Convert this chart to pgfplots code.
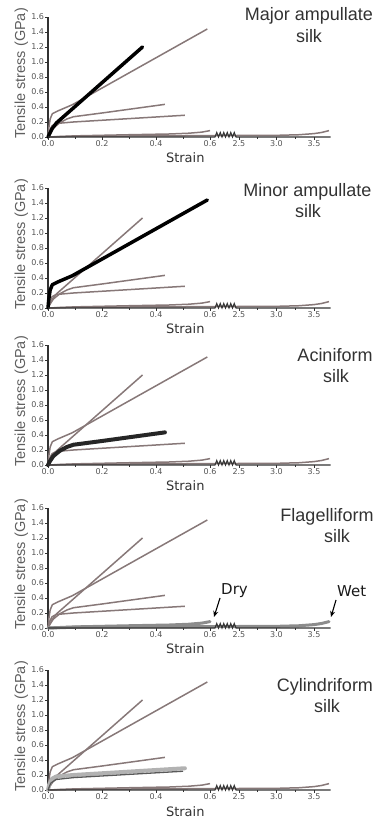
\documentclass[border=0pt]{standalone}
\usepackage{pgfplots}
\pgfplotsset{compat=1.18}
\usepackage{pgfplotstable}
\usepackage{fontspec}
\usetikzlibrary{arrows.meta}
\newfontfamily\arialf{Liberation Sans}
\newfontfamily\verdf{DejaVu Sans}
\definecolor{thingray}{RGB}{135,120,120}
\definecolor{axcol}{RGB}{50,50,50}
\definecolor{ticklab}{RGB}{85,85,85}
\definecolor{ylab}{RGB}{95,95,95}
\definecolor{titlecol}{RGB}{50,50,50}

\pgfplotstableread{
x y
0 0
0.007 0.05
0.015 0.11
0.032 0.19
0.35 1.2
}\tabMA
\pgfplotstableread{
x y
0 0
0.003 0.12
0.008 0.24
0.016 0.31
0.035 0.345
0.09 0.43
0.59 1.44
}\tabMI
\pgfplotstableread{
x y
0 0
0.007 0.05
0.02 0.12
0.044 0.19
0.07 0.24
0.094 0.27
0.2 0.32
0.433 0.435
}\tabAC
\pgfplotstableread{
x y
0 0
0.005 0.08
0.015 0.15
0.03 0.18
0.094 0.2
0.507 0.29
}\tabCY
\pgfplotstableread{
x y
0 0
0.01 0.09
0.03 0.14
0.094 0.165
0.5 0.25
}\tabCYb
\pgfplotstableread{
x y
0 0
0.1 0.015
0.3 0.03
0.45 0.04
0.52 0.05
0.57 0.065
0.6 0.085
}\tabFD
\pgfplotstableread{
x y
0 0
0.1 0.01
0.6 0.018
2.5 0.02
3.0 0.022
3.3 0.03
3.5 0.045
3.6 0.06
3.7 0.085
}\tabFW

\pgfplotsset{
 silk/.style={
  scale only axis, width=282.5pt, height=120pt,
  xmin=0, xmax=3.72, ymin=0, ymax=1.6,
  clip=false,
  axis lines=left,
  axis line style={-, axcol, line width=1.1pt},
  x axis line style={draw=none},
  x coord trafo/.code={\pgfmathparse{(##1<=1.5) ? (##1) : (0.707+((##1)-2.5)*0.278)}},
  x coord inv trafo/.code={\pgfmathparse{(##1<=0.65) ? (##1) : (2.5+((##1)-0.707)/0.278)}},
  xtick={0,0.2,0.4,0.6,2.5,3,3.5},
  xticklabels={0.0,0.2,0.4,0.6,2.5,3.0,3.5},
  minor xtick={0.1,0.3,0.5,2.75,3.25},
  ytick={0,0.2,0.4,0.6,0.8,1.0,1.2,1.4,1.6},
  yticklabels={0.0,0.2,0.4,0.6,0.8,1.0,1.2,1.4,1.6},
  tick align=outside,
  major tick length=3pt, minor tick length=2pt,
  tick style={axcol, line width=0.8pt},
  ticklabel style={font=\verdf\fontsize{8}{9}\selectfont, text=ticklab, inner sep=0.8pt},
  xlabel={Strain},
  xlabel style={at={(axis description cs:0.486,0)}, anchor=base, yshift=-26pt, font=\verdf\fontsize{13}{15}\selectfont, text=axcol, inner sep=0pt},
  ylabel={Tensile stress (GPa)},
  ylabel style={at={(axis description cs:-0.094,0.53)}, anchor=center, font=\arialf\fontsize{14.5}{16}\selectfont, text=ylab, inner sep=0pt},
 },
 tl/.style={color=thingray, line width=1.5pt, no marks, line join=round},
}

\newcommand{\thinall}{%
  \addplot[tl] table {\tabFD};
  \addplot[tl] table {\tabFW};
  \addplot[tl] table {\tabCY};
  \addplot[tl] table {\tabAC};
  \addplot[tl] table {\tabMI};
  \addplot[tl] table {\tabMA};
}

\newcommand{\baxis}[1]{%
  \draw[axcol, line width=1.1pt, line join=miter] (48pt,#1pt) -- ++(167pt,0pt)
   -- ++(1.75pt,4.5pt) -- ++(1.75pt,-4.5pt) -- ++(1.75pt,4.5pt) -- ++(1.75pt,-4.5pt)
   -- ++(1.75pt,4.5pt) -- ++(1.75pt,-4.5pt) -- ++(1.75pt,4.5pt) -- ++(1.75pt,-4.5pt)
   -- ++(1.75pt,4.5pt) -- ++(1.75pt,-4.5pt) -- ++(1.75pt,4.5pt) -- ++(1.75pt,-4.5pt)
   -- (330.5pt,#1pt);%
}

\begin{document}
\begin{tikzpicture}
\useasboundingbox (0pt,0pt) rectangle (383pt,821pt);

% Panel 1: Major ampullate
\begin{axis}[silk, at={(48pt,684pt)}, anchor=south west]
  \thinall
  \addplot[black, line width=3.5pt, no marks, line cap=round, line join=round] table {\tabMA};
\end{axis}
\baxis{684}
\node[font=\arialf\fontsize{18}{20}\selectfont, text=titlecol, anchor=base] at (309pt,800pt) {Major ampullate};
\node[font=\arialf\fontsize{18}{20}\selectfont, text=titlecol, anchor=base] at (309pt,778pt) {silk};

% Panel 2: Minor ampullate
\begin{axis}[silk, at={(48pt,513pt)}, anchor=south west]
  \thinall
  \addplot[black, line width=3.5pt, no marks, line cap=round, line join=round] table {\tabMI};
\end{axis}
\baxis{513}
\node[font=\arialf\fontsize{18}{20}\selectfont, text=titlecol, anchor=base] at (307.5pt,624pt) {Minor ampullate};
\node[font=\arialf\fontsize{18}{20}\selectfont, text=titlecol, anchor=base] at (308pt,603pt) {silk};

% Panel 3: Aciniform
\begin{axis}[silk, at={(48pt,356pt)}, anchor=south west]
  \thinall
  \addplot[black!85, line width=4pt, no marks, line cap=round, line join=round] table {\tabAC};
\end{axis}
\baxis{356}
\node[font=\arialf\fontsize{18}{20}\selectfont, text=titlecol, anchor=base] at (335pt,459pt) {Aciniform};
\node[font=\arialf\fontsize{18}{20}\selectfont, text=titlecol, anchor=base] at (336pt,438pt) {silk};

% Panel 4: Flagelliform
\begin{axis}[silk, at={(48pt,193pt)}, anchor=south west]
  \thinall
  \addplot[black!45, line width=3pt, no marks, line cap=round, line join=round] table {\tabFD};
  \addplot[black!45, line width=3pt, no marks, line cap=round, line join=round] table {\tabFW};
\end{axis}
\baxis{193}
\node[font=\arialf\fontsize{18}{20}\selectfont, text=titlecol, anchor=base] at (327pt,299pt) {Flagelliform};
\node[font=\arialf\fontsize{18}{20}\selectfont, text=titlecol, anchor=base] at (337pt,278pt) {silk};
\node[font=\verdf\fontsize{15}{17}\selectfont, text=black!90, anchor=base west, inner sep=0pt] at (221pt,226pt) {Dry};
\node[font=\verdf\fontsize{15}{17}\selectfont, text=black!90, anchor=base west, inner sep=0pt] at (337pt,224pt) {Wet};
\draw[black, line width=1.1pt, -{Stealth[length=6pt,width=5pt]}] (220pt,223pt) -- (214pt,204pt);
\draw[black, line width=1.1pt, -{Stealth[length=6pt,width=5pt]}] (336pt,221pt) -- (331pt,204pt);

% Panel 5: Cylindriform
\begin{axis}[silk, at={(48pt,31pt)}, anchor=south west]
  \thinall
  \addplot[black!30, line width=4pt, no marks, line cap=round, line join=round] table {\tabCY};
  \addplot[black!65, line width=1.3pt, no marks, line join=round] table {\tabCYb};
\end{axis}
\baxis{31}
\node[font=\arialf\fontsize{18}{20}\selectfont, text=titlecol, anchor=base] at (325pt,129pt) {Cylindriform};
\node[font=\arialf\fontsize{18}{20}\selectfont, text=titlecol, anchor=base] at (327pt,108pt) {silk};
\end{tikzpicture}
\end{document}
